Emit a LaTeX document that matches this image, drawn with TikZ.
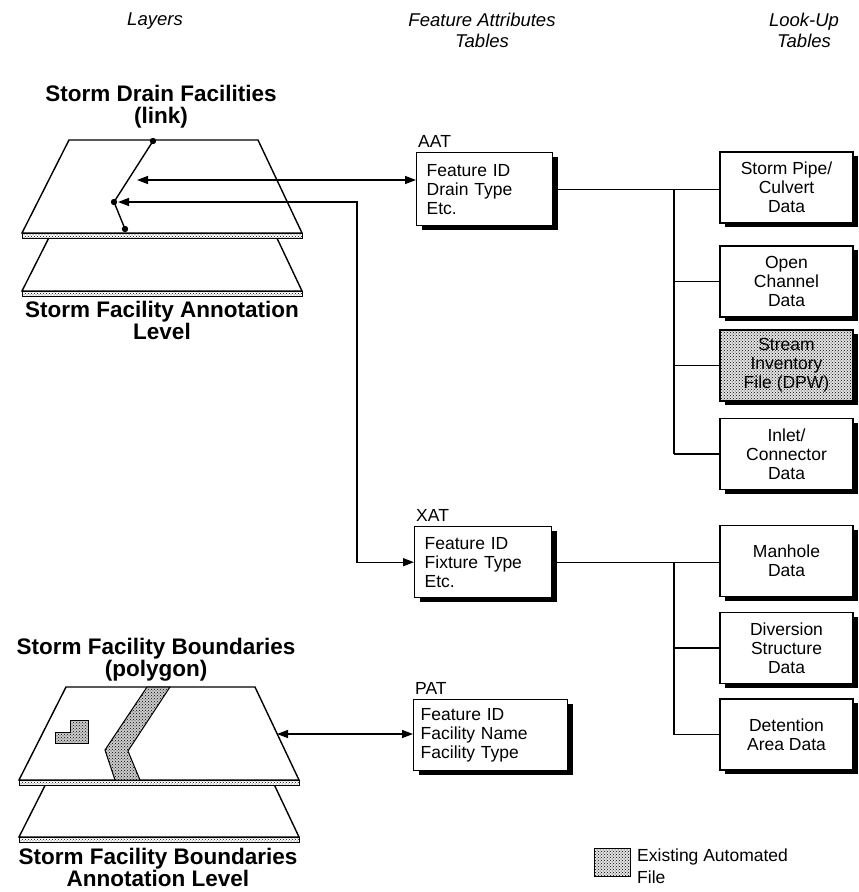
\documentclass[tikz,border=0pt]{standalone}
\usepackage{fontspec}
\setmainfont{Liberation Sans}
\usetikzlibrary{arrows.meta,shadows,patterns}

\newcommand\hdrfont{\fontsize{18.5}{21}\selectfont\itshape}
\newcommand\ttlfont{\fontsize{22.5}{22}\selectfont\bfseries}
\newcommand\bodyfont{\fontsize{17.5}{19}\selectfont}

\begin{document}
\begin{tikzpicture}[x=1pt,y=-1pt,
  hdr/.style={font=\hdrfont, align=center, inner sep=0pt, anchor=north},
  ttl/.style={font=\ttlfont, align=center, inner sep=0pt, anchor=north},
  lbl/.style={font=\bodyfont, inner sep=0pt, anchor=base west},
  boxshadow/.style={general shadow={fill=black, shadow xshift=5pt, shadow yshift=-4pt}},
  attbox/.style={draw, line width=1.4pt, fill=white, boxshadow, font=\bodyfont,
    align=left, inner xsep=10pt, anchor=north west, minimum height=73pt},
  lookbox/.style={draw, line width=1.4pt, fill=white, boxshadow, font=\bodyfont,
    align=center, minimum width=133pt, minimum height=71pt, inner sep=2pt},
  existing/.style={fill=gray!22, postaction={pattern=crosshatch dots}},
  wire/.style={line width=1.4pt},
  twoway/.style={wire, {Triangle[length=11pt,width=8pt]}-{Triangle[length=11pt,width=8pt]}},
  layer/.style={draw, line width=1.4pt, fill=white, line join=miter},
  edgestrip/.style={draw, line width=1pt, fill=white, postaction={pattern=crosshatch dots}},
  shaded/.style={draw, line width=1pt, fill=gray!40, postaction={pattern=crosshatch dots}}
]
\useasboundingbox (0,0) rectangle (859,892);

% column headings
\node[hdr] (hLayers) at (155,13) {Layers};
\node[hdr] (hFAT) at (482,13) {Feature Attributes\\Tables};
\node[hdr] (hLUT) at (804,13) {Look-Up\\Tables};

% layer titles
\node[ttl] (tLink) at (161,85) {Storm Drain Facilities\\(link)};
\node[ttl] (tLinkAnno) at (162,301) {Storm Facility Annotation\\Level};
\node[ttl] (tPoly) at (156,638) {Storm Facility Boundaries\\(polygon)};
\node[ttl] (tPolyAnno) at (158,848) {Storm Facility Boundaries\\Annotation Level};

% link layer stack
\draw[layer] (69,198) -- (258,198) -- (302,291) -- (22,291) -- cycle;
\draw[edgestrip] (22,291) rectangle (302,296);
\draw[layer] (69,140) -- (258,140) -- (302,233) -- (22,233) -- cycle;
\draw[edgestrip] (22,233) rectangle (302,238);

% the drain line with its vertices
\coordinate (l1) at (153,141);
\coordinate (l2) at (114,202);
\coordinate (l3) at (125,229);
\draw[wire] (l1) -- (l2) -- (l3);
\foreach \p in {l1,l2,l3} \fill (\p) circle (3.2pt);

% polygon layer stack
\draw[layer] (66,744) -- (255,744) -- (299,837) -- (19,837) -- cycle;
\draw[edgestrip] (19,837) rectangle (299,842);
\draw[layer] (66,687) -- (255,687) -- (299,780) -- (19,780) -- cycle;
\draw[edgestrip] (19,780) rectangle (299,785);
\draw[shaded] (147,687) -- (170,687) -- (128,751) -- (140,780) -- (115,780) -- (105,750) -- cycle;
\draw[shaded] (70,720) -- (88,720) -- (88,743) -- (55,743) -- (55,732) -- (70,732) -- cycle;

% feature attribute tables
\node[attbox, text width=116pt] (aat) at (416,152) {Feature ID\\Drain Type\\Etc.};
\node[attbox, text width=117pt, minimum height=71pt] (xat) at (414,526) {Feature ID\\Fixture Type\\Etc.};
\node[attbox, text width=140pt, inner xsep=7pt, minimum height=71pt] (pat) at (413,699) {Feature ID\\Facility Name\\Facility Type};
\node[lbl] (aatL) at ([xshift=2pt,yshift=5pt]aat.north west) {AAT};
\node[lbl] (xatL) at ([xshift=2pt,yshift=5pt]xat.north west) {XAT};
\node[lbl] (patL) at ([xshift=2pt,yshift=5pt]pat.north west) {PAT};

% look-up tables
\node[lookbox] (pipe) at (786.5,187.5) {Storm Pipe/\\Culvert\\Data};
\node[lookbox] (chan) at (786.5,281.5) {Open\\Channel\\Data};
\node[lookbox, existing] (stream) at (786.5,365.5) {Stream\\Inventory\\File (DPW)};
\node[lookbox] (inlet) at (786.5,454) {Inlet/\\Connector\\Data};
\node[lookbox] (manhole) at (786.5,561) {Manhole\\Data};
\node[lookbox] (divert) at (786.5,648) {Diversion\\Structure\\Data};
\node[lookbox] (detain) at (786.5,734.5) {Detention\\Area Data};

% table relations
\coordinate (busA) at (674,0);
\draw[wire] (aat.east) -- (aat.east -| pipe.west);
\draw[wire] (busA |- aat.east) -- (busA |- inlet.west);
\foreach \b in {chan,stream,inlet} \draw[wire] (busA |- \b.west) -- (\b.west);
\draw[wire] (xat.east) -- (xat.east -| manhole.west);
\draw[wire] (busA |- xat.east) -- (busA |- detain.west);
\foreach \b in {divert,detain} \draw[wire] (busA |- \b.west) -- (\b.west);

% layer to table links
\coordinate (a1) at (137,180);
\draw[twoway] (a1) -- (a1 -| aat.west);
\coordinate (l2tip) at (118,202);
\coordinate (turn) at (357,202);
\draw[twoway] (l2tip) -- (turn) |- (xat.west);
\coordinate (p1) at (277,734);
\draw[twoway] (p1) -- (p1 -| pat.west);

% legend
\node[draw, line width=1.2pt, minimum width=36pt, minimum height=28pt, inner sep=0pt,
  existing, anchor=north west] (key) at (594,848) {};
\node[font=\fontsize{17.5}{22}\selectfont, align=left, inner sep=0pt, anchor=north west] (keytext) at (637,849) {Existing Automated\\File};
\end{tikzpicture}
\end{document}
